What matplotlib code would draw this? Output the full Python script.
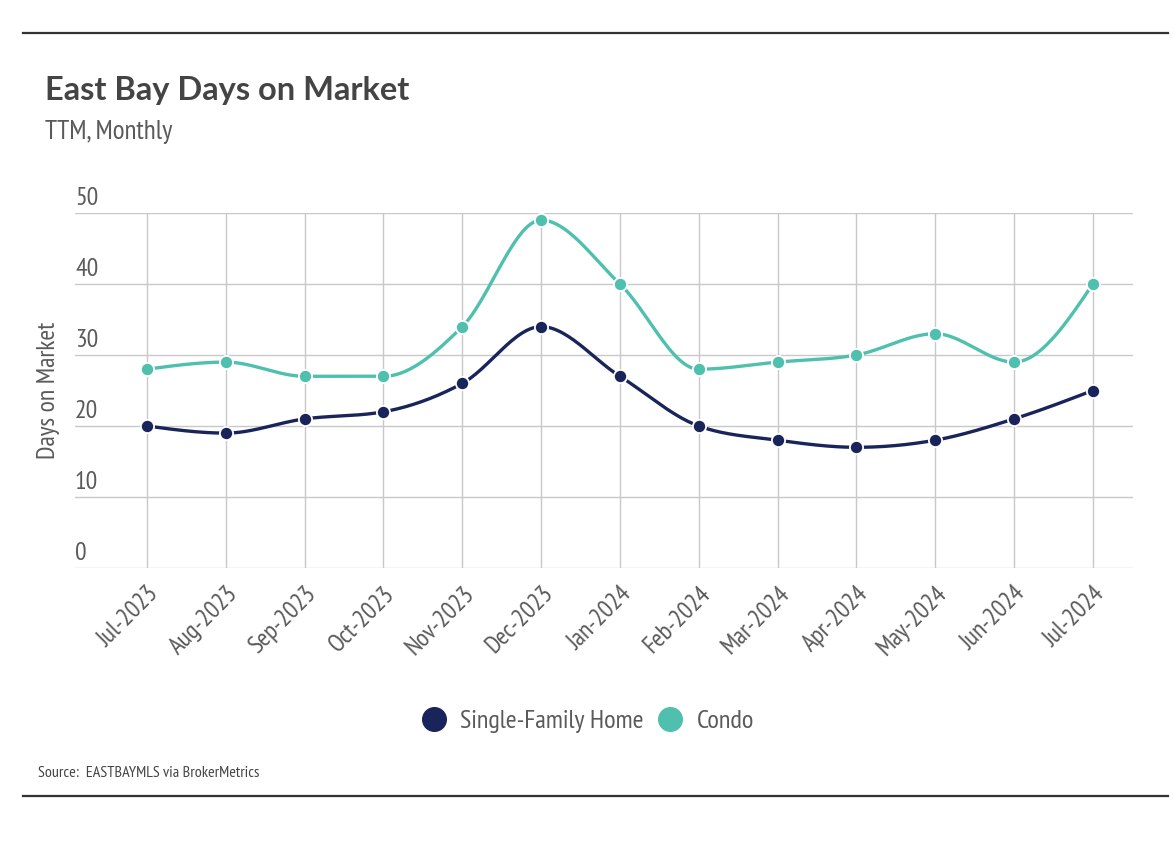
import numpy as np
import matplotlib
matplotlib.use("Agg")
import matplotlib.pyplot as plt
from matplotlib import font_manager
from matplotlib.lines import Line2D

months = ["Jul-2023", "Aug-2023", "Sep-2023", "Oct-2023", "Nov-2023", "Dec-2023",
          "Jan-2024", "Feb-2024", "Mar-2024", "Apr-2024", "May-2024", "Jun-2024", "Jul-2024"]
single_family = [20, 19, 21, 22, 26, 34, 27, 20, 18, 17, 18, 21, 25]
condo = [28, 29, 27, 27, 34, 49, 40, 28, 29, 30, 33, 29, 40]
y_ticks = [0, 10, 20, 30, 40, 50]

NAVY = "#18245a"
TEAL = "#4fc0ad"
TEXT = "#5a5a5a"

avail = {f.name for f in font_manager.fontManager.ttflist}
narrow = "DejaVu Sans"
for cand in ["PT Sans Narrow", "Liberation Sans Narrow", "Roboto Condensed", "Open Sans Condensed", "Noto Sans"]:
    if cand in avail:
        narrow = cand
        break
title_font = "Lato" if "Lato" in avail else "DejaVu Sans"


def monotone_curve(x, y, n=30):
    x = np.asarray(x, float)
    y = np.asarray(y, float)
    h = np.diff(x)
    s = np.diff(y) / h
    m = np.zeros_like(y)
    for i in range(1, len(x) - 1):
        h0, h1 = h[i - 1], h[i]
        s0, s1 = s[i - 1], s[i]
        p = (s0 * h1 + s1 * h0) / (h0 + h1)
        m[i] = (np.sign(s0) + np.sign(s1)) * min(abs(s0), abs(s1), 0.5 * abs(p))
    m[0] = (3 * s[0] - m[1]) / 2
    m[-1] = (3 * s[-1] - m[-2]) / 2
    xs, ys = [], []
    for i in range(len(x) - 1):
        t = np.linspace(0, 1, n)
        dx = h[i]
        p0 = (x[i], y[i])
        p1 = (x[i] + dx / 3, y[i] + m[i] * dx / 3)
        p2 = (x[i + 1] - dx / 3, y[i + 1] - m[i + 1] * dx / 3)
        p3 = (x[i + 1], y[i + 1])
        bx = (1 - t) ** 3 * p0[0] + 3 * (1 - t) ** 2 * t * p1[0] + 3 * (1 - t) * t ** 2 * p2[0] + t ** 3 * p3[0]
        by = (1 - t) ** 3 * p0[1] + 3 * (1 - t) ** 2 * t * p1[1] + 3 * (1 - t) * t ** 2 * p2[1] + t ** 3 * p3[1]
        xs.append(bx)
        ys.append(by)
    return np.concatenate(xs), np.concatenate(ys)


W, H = 1174, 842
fig = plt.figure(figsize=(W / 100, H / 100), dpi=100)
ax = fig.add_axes([75 / W, 1 - 568 / H, (1133 - 75) / W, (568 - 213) / H])

xpos = np.arange(len(months))
for vals, col in [(single_family, NAVY), (condo, TEAL)]:
    cx, cy = monotone_curve(xpos, vals)
    ax.plot(cx, cy, color=col, lw=2.4, zorder=3, solid_capstyle="round")
    ax.plot(xpos, vals, "o", color=col, ms=9.5, mec="white", mew=1.3, zorder=4)

ax.set_xlim(-0.914, 12.51)
ax.set_ylim(0, 50)
ax.set_yticks(y_ticks)
ax.set_xticks(xpos)
ax.grid(True, color="#c8c8c8", lw=1.0)
ax.set_axisbelow(True)
for sp in ax.spines.values():
    sp.set_visible(False)
ax.tick_params(axis="both", length=0)
ax.set_yticklabels([])
ax.set_xticklabels(months, rotation=45, ha="right", rotation_mode="anchor",
                   fontsize=18, color=TEXT, family=narrow)
ax.tick_params(axis="x", pad=10)
for v in y_ticks:
    ax.text(0.0, v + 0.4, str(v), transform=ax.get_yaxis_transform(), ha="left", va="bottom",
            fontsize=18.5, color=TEXT, family=narrow)
fig.text(48 / W, 1 - 390 / H, "Days on Market", rotation=90, ha="center", va="center",
         fontsize=18.5, color=TEXT, family=narrow)

fig.text(45 / W, 1 - 100 / H, "East Bay Days on Market", ha="left", va="baseline",
         fontsize=23.5, fontweight="bold", color="#444444", family=title_font)
fig.text(45 / W, 1 - 139 / H, "TTM, Monthly", ha="left", va="baseline",
         fontsize=19.5, color=TEXT, family=narrow)
fig.text(38 / W, 1 - 777 / H, "Source:  EASTBAYMLS via BrokerMetrics", ha="left", va="baseline",
         fontsize=11.5, color="#444444", family=narrow)

for yy in (33, 796):
    fig.add_artist(Line2D([23 / W, 1168 / W], [1 - yy / H, 1 - yy / H], color="#333333", lw=1.6))

handles = [Line2D([], [], ls="none", marker="o", color=NAVY, ms=17),
           Line2D([], [], ls="none", marker="o", color=TEAL, ms=17)]
leg = fig.legend(handles, ["Single-Family Home", "Condo"], loc="center",
                 bbox_to_anchor=(586 / W, 1 - 721 / H), ncol=2, frameon=False,
                 prop={"family": narrow, "size": 19}, handletextpad=0.4, columnspacing=0.4,
                 handlelength=1.2)
for t in leg.get_texts():
    t.set_color(TEXT)

fig.savefig("out.png", dpi=100)
